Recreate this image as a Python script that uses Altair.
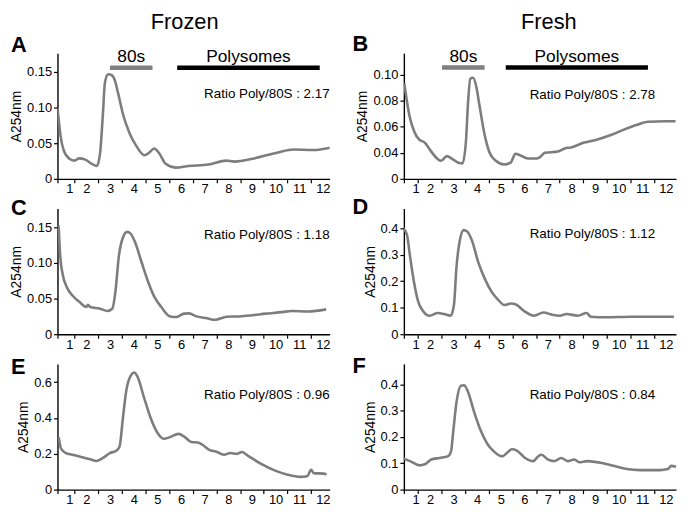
import altair as alt
import pandas as pd

# ---------------- data ----------------
A_x = [0.50, 0.64, 0.76, 1.00, 1.24, 1.43, 1.71, 1.99, 2.21, 2.35, 2.46, 2.56, 2.70, 2.85, 2.99, 3.13, 3.34, 3.63, 3.91, 4.27, 4.48, 4.69, 4.91, 5.19, 5.62, 6.18, 7.04, 7.82, 8.17, 9.03, 10.02, 10.73, 11.58, 12.43]
A_y = [0.0997, 0.059, 0.041, 0.0287, 0.0256, 0.0287, 0.027, 0.0211, 0.018, 0.0368, 0.0862, 0.1356, 0.1468, 0.1455, 0.1379, 0.12, 0.0907, 0.0638, 0.0467, 0.0332, 0.0368, 0.0427, 0.0359, 0.0211, 0.0157, 0.018, 0.0202, 0.0256, 0.0242, 0.0287, 0.0368, 0.0413, 0.0404, 0.0445]

B_x = [0.64, 0.72, 0.86, 1.07, 1.28, 1.53, 1.78, 2.07, 2.24, 2.49, 2.70, 2.99, 3.17, 3.32, 3.41, 3.51, 3.63, 3.77, 3.91, 4.13, 4.34, 4.62, 4.98, 5.26, 5.47, 5.69, 6.04, 6.40, 6.54, 6.75, 7.32, 7.61, 7.89, 8.46, 9.03, 9.59, 10.16, 10.73, 11.23, 12.01, 12.43]
B_y = [0.0934, 0.0835, 0.0688, 0.0565, 0.0503, 0.0479, 0.0417, 0.0356, 0.0339, 0.0375, 0.0356, 0.0324, 0.0319, 0.0491, 0.0786, 0.097, 0.0978, 0.0909, 0.0761, 0.054, 0.0405, 0.0339, 0.0311, 0.0324, 0.0393, 0.038, 0.0356, 0.0356, 0.0368, 0.040, 0.041, 0.0434, 0.0442, 0.0479, 0.0503, 0.0535, 0.0577, 0.0614, 0.0639, 0.0643, 0.0643]

C_x = [0.55, 0.62, 0.73, 0.90, 1.18, 1.47, 1.75, 1.82, 1.92, 2.32, 2.67, 2.88, 3.02, 3.16, 3.33, 3.52, 3.66, 3.87, 4.15, 4.44, 4.72, 5.00, 5.36, 5.64, 5.99, 6.21, 6.49, 6.98, 7.34, 7.83, 8.40, 8.96, 9.53, 10.24, 10.66, 11.37, 12.15]
C_y = [0.152, 0.109, 0.0833, 0.0661, 0.0532, 0.0446, 0.0382, 0.0412, 0.0382, 0.036, 0.0326, 0.036, 0.0618, 0.109, 0.1348, 0.1433, 0.1412, 0.1283, 0.1004, 0.0725, 0.0511, 0.0382, 0.0253, 0.024, 0.0288, 0.0292, 0.0253, 0.0223, 0.0202, 0.0245, 0.0249, 0.0266, 0.0288, 0.0309, 0.0326, 0.0318, 0.0348]

D_x = [0.60, 0.75, 0.89, 1.06, 1.24, 1.45, 1.74, 2.09, 2.37, 2.66, 2.80, 2.90, 3.04, 3.22, 3.37, 3.58, 3.86, 4.14, 4.43, 4.71, 4.99, 5.28, 5.49, 5.84, 6.27, 6.69, 7.05, 7.40, 7.69, 8.18, 8.56, 8.75, 9.39, 10.52, 12.36]
D_y = [0.399, 0.377, 0.293, 0.197, 0.124, 0.088, 0.070, 0.080, 0.076, 0.070, 0.112, 0.245, 0.348, 0.393, 0.388, 0.354, 0.270, 0.209, 0.161, 0.131, 0.110, 0.116, 0.112, 0.088, 0.070, 0.082, 0.074, 0.070, 0.076, 0.070, 0.080, 0.066, 0.064, 0.066, 0.066]

E_x = [0.55, 0.65, 0.86, 1.14, 1.57, 1.92, 2.20, 2.49, 2.77, 3.05, 3.19, 3.33, 3.48, 3.69, 3.83, 3.97, 4.25, 4.54, 4.82, 5.10, 5.38, 5.74, 6.02, 6.30, 6.59, 6.80, 7.08, 7.36, 7.72, 8.00, 8.28, 8.50, 8.78, 9.35, 9.91, 10.48, 11.04, 11.33, 11.50, 11.61, 12.03, 12.17]
E_y = [0.293, 0.231, 0.204, 0.195, 0.181, 0.169, 0.160, 0.178, 0.204, 0.217, 0.240, 0.391, 0.551, 0.639, 0.654, 0.631, 0.515, 0.400, 0.320, 0.284, 0.293, 0.311, 0.293, 0.266, 0.263, 0.249, 0.222, 0.213, 0.195, 0.204, 0.199, 0.210, 0.187, 0.142, 0.107, 0.083, 0.071, 0.075, 0.110, 0.092, 0.089, 0.085]

F_x = [0.53, 0.89, 1.31, 1.53, 1.81, 2.17, 2.53, 2.67, 2.77, 2.91, 3.10, 3.24, 3.39, 3.67, 3.96, 4.24, 4.53, 4.89, 5.10, 5.31, 5.53, 5.89, 6.24, 6.46, 6.60, 6.89, 7.17, 7.46, 7.74, 8.03, 8.24, 8.60, 9.17, 9.74, 10.31, 10.89, 11.74, 12.10, 12.24, 12.46]
F_y = [0.120, 0.108, 0.092, 0.096, 0.114, 0.120, 0.126, 0.145, 0.224, 0.333, 0.394, 0.396, 0.375, 0.296, 0.224, 0.175, 0.145, 0.126, 0.139, 0.153, 0.148, 0.120, 0.108, 0.126, 0.132, 0.114, 0.108, 0.120, 0.108, 0.114, 0.104, 0.108, 0.102, 0.090, 0.078, 0.074, 0.074, 0.078, 0.090, 0.087]

ratios = ["Ratio Poly/80S : 2.17", "Ratio Poly/80S : 2.78", "Ratio Poly/80S : 1.18",
          "Ratio Poly/80S : 1.12", "Ratio Poly/80S : 0.96", "Ratio Poly/80S : 0.84"]
letters = ["A", "B", "C", "D", "E", "F"]
headers = ["Frozen", "Fresh"]

bar_names = ["80s", "Polysomes"]
A_bar_start = [2.78, 5.69]
A_bar_end = [4.62, 11.87]
A_bar_y = [0.156, 0.156]
B_bar_start = [2.28, 5.05]
B_bar_end = [4.13, 11.23]
B_bar_y = [0.1057, 0.1057]

# fraction boundary ticks (between the fraction labels 1..12)
FRACTION_TICKS = [1.243, 2.268, 3.293, 4.318, 5.343, 6.369, 7.394, 8.419, 9.444, 10.469, 11.494]
TICK_STEP = 1.0251

# ---------------- layout / style ----------------
FONT = "Liberation Sans"
W, H = 275, 127
LEFT_DOMAIN = [0.5, 12.3]
RIGHT_DOMAIN = [0.62, 12.45]
LINE_COLOR = "#7d7d7d"


def make_panel(xs, ys, ydom, yvals, yfmt, letter, letter_y, ratio, ratio_y, right,
               bars=None, header=None, header_dx=0):
    xdom = RIGHT_DOMAIN if right else LEFT_DOMAIN
    unit = W / (xdom[1] - xdom[0])
    half = TICK_STEP * unit / 2
    xscale = alt.Scale(domain=xdom, nice=False, zero=False)
    yscale = alt.Scale(domain=ydom, nice=False, zero=False)
    xaxis = alt.Axis(title=None, values=[xdom[0]] + FRACTION_TICKS,
                     labelExpr=f"datum.value < 1 ? '1' : format(round((datum.value - {FRACTION_TICKS[0]}) / {TICK_STEP}) + 2, 'd')",
                     labelOffset=half, labelFlush=False, labelOverlap=False,
                     labelPadding=0)
    zero_cut = ydom[0] + 1e-4
    yaxis = alt.Axis(title="A254nm", values=yvals,
                     labelExpr=f"datum.value < {zero_cut} ? '0' : format(datum.value, '{yfmt}')",
                     labelFlush=False, labelOverlap=False, titlePadding=3)

    def X(field):
        return alt.X(field, scale=xscale, axis=xaxis)

    def Y(field):
        return alt.Y(field, scale=yscale, axis=yaxis)

    df = pd.DataFrame({"x": xs, "y": ys})
    layers = [
        alt.Chart(df).mark_line(color=LINE_COLOR, strokeWidth=2.6,
                                interpolate="monotone", clip=True)
        .encode(x=X("x:Q"), y=Y("y:Q"))
    ]
    if bars is not None:
        bdf = pd.DataFrame({"name": bar_names, "x0": bars[0], "x1": bars[1], "y": bars[2]})
        cscale = alt.Scale(domain=bar_names, range=["#808080", "#000000"])
        layers.append(
            alt.Chart(bdf).mark_rule(strokeWidth=4.5)
            .encode(x=X("x0:Q"), x2="x1:Q", y=Y("y:Q"),
                    color=alt.Color("name:N", scale=cscale, legend=None))
        )
        layers.append(
            alt.Chart(bdf).transform_calculate(mid="(datum.x0 + datum.x1) / 2")
            .mark_text(font=FONT, fontSize=17.5, color="black",
                       baseline="alphabetic", dy=-6)
            .encode(x=X("mid:Q"), y=Y("y:Q"), text="name:N")
        )
    rx = W - 21 if right else W
    layers.append(
        alt.Chart(pd.DataFrame({"t": [ratio]}))
        .mark_text(font=FONT, fontSize=13.5, color="black", align="right", baseline="middle")
        .encode(text="t:N", x=alt.value(rx), y=alt.value(ratio_y))
    )
    layers.append(
        alt.Chart(pd.DataFrame({"t": [letter]}))
        .mark_text(font=FONT, fontSize=22, fontWeight="bold", color="black",
                   align="left", baseline="alphabetic")
        .encode(text="t:N", x=alt.value(-52 if right else -47), y=alt.value(letter_y))
    )
    if header is not None:
        layers.append(
            alt.Chart(pd.DataFrame({"t": [header]}))
            .mark_text(font=FONT, fontSize=22, color="black",
                       align="center", baseline="alphabetic")
            .encode(text="t:N", x=alt.value(W / 2 + header_dx), y=alt.value(-24))
        )
    return alt.layer(*layers).properties(width=W, height=H)


pA = make_panel(A_x, A_y, [0, 0.1765], [0, 0.05, 0.10, 0.15], ".2f", letters[0], -1, ratios[0], 41, False,
                bars=(A_bar_start, A_bar_end, A_bar_y), header=headers[0], header_dx=-9)
pB = make_panel(B_x, B_y, [0.02, 0.1167], [0.02, 0.04, 0.06, 0.08, 0.10], ".2f", letters[1], -2, ratios[1], 42, True,
                bars=(B_bar_start, B_bar_end, B_bar_y), header=headers[1], header_dx=9)
pC = make_panel(C_x, C_y, [0, 0.176], [0, 0.05, 0.10, 0.15], ".2f", letters[2], 7, ratios[2], 27, False)
pD = make_panel(D_x, D_y, [0, 0.4746], [0, 0.1, 0.2, 0.3, 0.4], ".1f", letters[3], 6, ratios[3], 26, True)
pE = make_panel(E_x, E_y, [0, 0.702], [0, 0.2, 0.4, 0.6], ".1f", letters[4], 10, ratios[4], 31, False)
pF = make_panel(F_x, F_y, [0, 0.477], [0, 0.1, 0.2, 0.3, 0.4], ".1f", letters[5], 9, ratios[5], 31, True)

chart = (
    alt.concat(pA, pB, pC, pD, pE, pF, columns=2,
               spacing={"row": 30, "column": 75}, bounds="flush")
    .properties(padding=1)
    .configure_view(strokeWidth=0)
    .configure_axis(domainColor="black", domainWidth=1.4, tickColor="black",
                    tickWidth=1.2, tickSize=4, labelFont=FONT, labelFontSize=13,
                    labelColor="black", titleFont=FONT, titleFontSize=14,
                    titleFontWeight="normal", titleColor="black", grid=False)
)

chart.save("out.html", embed_options={"renderer": "svg", "actions": False})
